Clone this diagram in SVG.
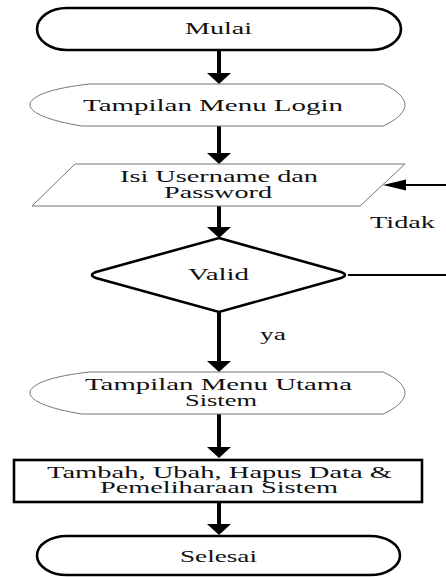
<svg xmlns="http://www.w3.org/2000/svg" width="446" height="577" viewBox="0 0 446 577">
<style>
text{font-family:'Liberation Serif','Times New Roman',serif;font-size:16px;fill:#111}
.thick{fill:#fff;stroke:#000;stroke-width:2.6}
.thin{fill:#fff;stroke:#777;stroke-width:1}
.shaft{stroke:#000;stroke-width:4;fill:none}
.line{stroke:#000;stroke-width:2;fill:none}
</style>
<g id="connectors">
<line class="shaft" x1="219" y1="50" x2="219" y2="74"/><polygon points="207,73 231,73 219,84" fill="#000"/>
<line class="shaft" x1="219" y1="126" x2="219" y2="154"/><polygon points="207,153 231,153 219,164" fill="#000"/>
<line class="shaft" x1="219" y1="206" x2="219" y2="228"/><polygon points="207,227 231,227 219,238" fill="#000"/>
<line class="shaft" x1="219" y1="312" x2="219" y2="362"/><polygon points="207,361 231,361 219,372" fill="#000"/>
<line class="shaft" x1="219" y1="414" x2="219" y2="448"/><polygon points="207,447 231,447 219,458" fill="#000"/>
<line class="shaft" x1="219" y1="502" x2="219" y2="525"/><polygon points="207,524 231,524 219,535" fill="#000"/>
<line class="line" x1="348" y1="275" x2="446" y2="275"/>
<line class="line" x1="446" y1="185" x2="400" y2="185"/><polygon points="383,185 406,179.5 406,190.5" fill="#000"/>
<text x="370" y="228" textLength="65" lengthAdjust="spacingAndGlyphs">Tidak</text>
<text x="260" y="340" textLength="26" lengthAdjust="spacingAndGlyphs">ya</text>
</g>
<g id="mulai">
<rect class="thick" x="37" y="8" width="364" height="42" rx="30" ry="21"/>
<text x="185" y="34" textLength="67" lengthAdjust="spacingAndGlyphs">Mulai</text>
</g>
<g id="menu-login">
<path class="thin" d="M90,84 L383,84 C397,90 405,98 405,105 C405,112 397,120 383,126 L82,126 C50,121 30,113 30,105 C30,96 52,88 90,84 Z"/>
<text x="83" y="110.5" textLength="260" lengthAdjust="spacingAndGlyphs">Tampilan Menu Login</text>
</g>
<g id="input">
<polygon class="thin" points="75,164 405,164 360,206 32,206"/>
<text x="120" y="181.5" textLength="198" lengthAdjust="spacingAndGlyphs">Isi Username dan</text>
<text x="164" y="197.5" textLength="108" lengthAdjust="spacingAndGlyphs">Password</text>
</g>
<g id="valid">
<path class="thick" d="M219,238 L341,272 Q349,275 341,278 L219,312 L96,278 Q88,275 96,272 Z"/>
<text x="188" y="280" textLength="61" lengthAdjust="spacingAndGlyphs">Valid</text>
</g>
<g id="menu-utama">
<path class="thin" d="M90,372 L383,372 C397,378 405,386 405,393 C405,400 397,408 383,414 L82,414 C50,409 30,401 30,393 C30,384 52,376 90,372 Z"/>
<text x="85" y="390" textLength="267" lengthAdjust="spacingAndGlyphs">Tampilan Menu Utama</text>
<text x="185" y="406" textLength="72" lengthAdjust="spacingAndGlyphs">Sistem</text>
</g>
<g id="proses">
<rect class="thick" x="14" y="460" width="408" height="42" stroke-width="3"/>
<text x="47" y="477.5" textLength="345" lengthAdjust="spacingAndGlyphs">Tambah, Ubah, Hapus Data &amp;</text>
<text x="100" y="493" textLength="238" lengthAdjust="spacingAndGlyphs">Pemeliharaan Sistem</text>
</g>
<g id="selesai">
<rect class="thick" x="37" y="536" width="363" height="39" rx="30" ry="19.5"/>
<text x="180" y="562" textLength="77" lengthAdjust="spacingAndGlyphs">Selesai</text>
</g>
</svg>
